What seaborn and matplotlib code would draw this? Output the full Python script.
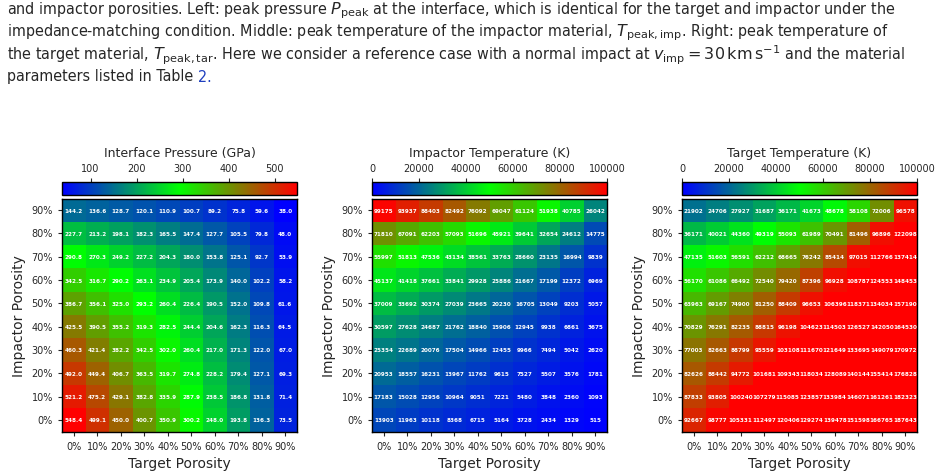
import numpy as np
import pandas as pd
import matplotlib
matplotlib.use("Agg")
import matplotlib.pyplot as plt
import seaborn as sns
from matplotlib.colors import LinearSegmentedColormap

sns.set_style("white")
plt.rcParams['font.family'] = ['DejaVu Sans']

target_porosity = ["0%", "10%", "20%", "30%", "40%", "50%", "60%", "70%", "80%", "90%"]
impactor_porosity = ["90%", "80%", "70%", "60%", "50%", "40%", "30%", "20%", "10%", "0%"]

pressure = [
    [144.2, 136.6, 128.7, 120.1, 110.9, 100.7, 89.2, 75.8, 59.6, 38.0],
    [227.7, 213.2, 198.1, 182.3, 165.5, 147.4, 127.7, 105.5, 79.8, 48.0],
    [290.8, 270.3, 249.2, 227.2, 204.3, 180.0, 153.8, 125.1, 92.7, 53.9],
    [342.5, 316.7, 290.2, 263.1, 234.9, 205.4, 173.9, 140.0, 102.2, 58.2],
    [386.7, 356.1, 325.0, 293.2, 260.4, 226.4, 190.5, 152.0, 109.8, 61.6],
    [425.5, 390.5, 355.2, 319.3, 282.5, 244.4, 204.6, 162.3, 116.3, 64.5],
    [460.3, 421.4, 382.2, 342.5, 302.0, 260.4, 217.0, 171.3, 122.0, 67.0],
    [492.0, 449.4, 406.7, 363.5, 319.7, 274.8, 228.2, 179.4, 127.1, 69.3],
    [521.2, 475.2, 429.1, 382.8, 335.9, 287.9, 238.5, 186.8, 131.8, 71.4],
    [548.4, 499.1, 450.0, 400.7, 350.9, 300.2, 248.0, 193.8, 136.3, 73.5],
]

impactor_temp = [
    [99175, 93937, 88403, 82492, 76092, 69047, 61124, 51938, 40785, 26042],
    [71810, 67091, 62203, 57093, 51696, 45921, 39641, 32654, 24612, 14775],
    [55997, 51813, 47536, 43134, 38561, 33763, 28660, 23135, 16994, 9839],
    [45137, 41418, 37661, 33841, 29928, 25886, 21667, 17199, 12372, 6969],
    [37009, 33692, 30374, 27039, 23665, 20230, 16705, 13049, 9203, 5057],
    [30597, 27628, 24687, 21762, 18840, 15906, 12945, 9938, 6861, 3675],
    [25354, 22689, 20076, 17504, 14966, 12455, 9966, 7494, 5042, 2620],
    [20953, 18557, 16231, 13967, 11762, 9615, 7527, 5507, 3576, 1781],
    [17183, 15028, 12956, 10964, 9051, 7221, 5480, 3848, 2360, 1093],
    [13903, 11963, 10118, 8368, 6715, 5164, 3728, 2434, 1329, 515],
]

target_temp = [
    [21902, 24706, 27927, 31687, 36171, 41673, 48678, 58108, 72006, 96578],
    [36171, 40021, 44360, 49319, 55093, 61989, 70491, 81496, 96896, 122098],
    [47135, 51603, 56591, 62212, 68665, 76242, 85414, 97015, 112766, 137414],
    [56170, 61086, 66492, 72540, 79420, 87396, 96928, 108787, 124553, 148453],
    [63963, 69167, 74900, 81250, 88409, 96653, 106396, 118371, 134034, 157190],
    [70829, 76291, 82235, 88815, 96198, 104623, 114503, 126527, 142050, 164530],
    [77003, 82663, 88799, 95559, 103108, 111670, 121649, 133695, 149079, 170972],
    [82626, 88442, 94772, 101681, 109343, 118034, 128089, 140144, 155414, 176828],
    [87833, 93805, 100240, 107279, 115085, 123857, 133984, 146071, 161261, 182323],
    [92667, 98777, 105331, 112497, 120406, 129274, 139478, 151598, 166765, 187643],
]

titles = ["Interface Pressure (GPa)", "Impactor Temperature (K)", "Target Temperature (K)"]
pressure_ticks = [100, 200, 300, 400, 500]
temp_ticks = [0, 20000, 40000, 60000, 80000, 100000]

cmap = LinearSegmentedColormap.from_list("bgr", ["blue", "lime", "red"])

W, H = 947, 477
fig = plt.figure(figsize=(W / 100, H / 100), dpi=100)

def fx(px):
    return px / W

def fy(py):
    return 1 - py / H

lefts = [62, 372, 682]
hm_w = 235
hm_top, hm_bot = 199.5, 432.5
cb_top, cb_bot = 183, 196

panels = [
    (pressure, ".1f", None, None, pressure_ticks),
    (impactor_temp, "d", 0, 100000, temp_ticks),
    (target_temp, "d", 0, 100000, temp_ticks),
]

for i, (vals, fmt, vmin, vmax, ticks) in enumerate(panels):
    left = lefts[i]
    ax = fig.add_axes([fx(left), fy(hm_bot), fx(hm_w), (hm_bot - hm_top) / H])
    cax = fig.add_axes([fx(left), fy(cb_bot), fx(hm_w), (cb_bot - cb_top) / H])
    df = pd.DataFrame(vals, index=impactor_porosity, columns=target_porosity)
    sns.heatmap(df, ax=ax, cmap=cmap, vmin=vmin, vmax=vmax, annot=True, fmt=fmt,
                annot_kws={"color": "white", "fontsize": 4.1, "fontweight": "bold"},
                cbar_ax=cax, cbar_kws={"orientation": "horizontal", "ticks": ticks})
    for s in ax.spines.values():
        s.set_visible(True)
        s.set_color("black")
        s.set_linewidth(1.0)
    ax.tick_params(axis="both", labelsize=7, length=3, width=0.8, left=True, bottom=True)
    ax.set_yticklabels(impactor_porosity, rotation=0)
    ax.set_xticklabels(target_porosity, rotation=0)
    ax.set_xlabel("Target Porosity", fontsize=10)
    ax.set_ylabel("Impactor Porosity", fontsize=10)
    cax.xaxis.set_ticks_position("top")
    cax.xaxis.set_label_position("top")
    cax.tick_params(axis="x", labelsize=7, length=3, width=0.8, top=True)
    cax.set_title(titles[i], fontsize=9, pad=19)
    cb = ax.collections[0].colorbar
    cb.outline.set_visible(True)
    cb.outline.set_edgecolor("black")
    cb.outline.set_linewidth(1.0)

# caption
cap_kw = dict(va="center", ha="left", family="DejaVu Sans", stretch="condensed")
lines = [
    r"and impactor porosities. Left: peak pressure $P_{\rm peak}$ at the interface, which is identical for the target and impactor under the",
    r"impedance-matching condition. Middle: peak temperature of the impactor material, $T_{\rm peak,imp}$. Right: peak temperature of",
    r"the target material, $T_{\rm peak,tar}$. Here we consider a reference case with a normal impact at $v_{\rm imp}=30\,{\rm km\,s^{-1}}$ and the material",
]
ys = [11, 33, 55]
x0, x1 = 7, 940
base_fs = 10.5
texts = []
for ln, y in zip(lines, ys):
    texts.append(fig.text(fx(x0), fy(y), ln, fontsize=base_fs, **cap_kw))
t4 = fig.text(fx(x0), fy(77), "parameters listed in Table ", fontsize=base_fs, **cap_kw)
fig.canvas.draw()
r = fig.canvas.get_renderer()
scales = [(x1 - x0) / t.get_window_extent(r).width for t in texts]
fs = base_fs * min(scales) * 0.97
for t in texts:
    t.set_fontsize(fs)
t4.set_fontsize(fs)
fig.canvas.draw()
bb = t4.get_window_extent(r)
fig.text(bb.x1 / W, fy(77), "2.", fontsize=fs, color="#1f3fbf", **cap_kw)

fig.savefig("out.png", dpi=100)
